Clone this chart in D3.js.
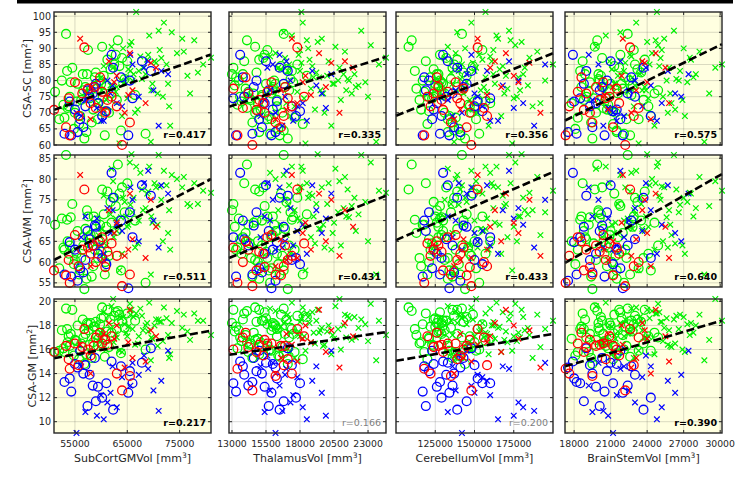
<!DOCTYPE html>
<html>
<head>
<meta charset="utf-8">
<script src="https://cdn.jsdelivr.net/npm/d3@7"></script>
<style>
html, body { margin: 0; padding: 0; background: #fff; overflow: hidden; }
svg { display: block; }
text { font-family: "DejaVu Sans", sans-serif; }
</style>
</head>
<body>
<div id="chart"></div>
<script>
// each subject: [CSA-SC, CSA-WM, CSA-GM, SubCortGMVol, ThalamusVol, CerebellumVol, BrainStemVol]
var greenCircles = [
    [76.5, 69, 15.8, 51200, 14200, 118000, 19200], [94.5, 85.8, 19.4, 53300, 16800, 142000, 22400],
    [80, 70.5, 17.6, 52500, 13500, 128000, 20100], [68, 58.5, 15.9, 52000, 15900, 151000, 23300],
    [83, 70.2, 17.7, 53500, 17400, 112000, 18500], [84, 74, 19.3, 54500, 13100, 136000, 21700],
    [75, 64, 16.3, 54000, 15200, 124000, 20600], [72, 62, 17.1, 53800, 16300, 147000, 24100],
    [70, 60.5, 16.8, 55000, 14700, 131000, 19800], [66.5, 57, 15.2, 55800, 18200, 120000, 21200],
    [89.5, 71, 18.1, 57500, 15600, 155000, 22900], [82, 66, 18.5, 56500, 13800, 127000, 18900],
    [78, 68, 17.3, 57000, 16900, 139000, 20400], [74, 61, 16.5, 56200, 14400, 115000, 23700],
    [64, 56, 15.6, 57200, 15000, 133000, 21500], [62, 53.5, 14.8, 56800, 17100, 144000, 19500],
    [81, 63, 17.9, 58800, 13300, 122000, 22200], [77, 66.5, 18.2, 58000, 16000, 129000, 20900],
    [73, 65, 16.9, 59500, 14900, 160000, 17800], [79, 62.5, 18.6, 60000, 15500, 125000, 21900],
    [85, 75.5, 18.8, 62500, 17800, 137000, 23000], [92.5, 83.5, 19.2, 63200, 14100, 110000, 19900],
    [63, 57, 15.4, 60700, 16500, 141000, 22600], [87, 78, 18.4, 64000, 15300, 132000, 20300],
    [86, 79, 19.0, 65000, 13900, 119000, 18700], [70, 61.5, 16.2, 61500, 16700, 148000, 21400],
    [76, 69.5, 17.4, 62000, 14600, 126000, 24600], [80.5, 72, 17.8, 64500, 17300, 135000, 20000],
    [63.5, 55, 16.0, 68500, 15800, 153000, 22100], [75, 65.5, 17.0, 60300, 13600, 121000, 19000],
    [79, 67.5, 18.0, 55500, 16200, 130000, 21000], [82.5, 70, 18.3, 59000, 14800, 143000, 23500],
    [71, 59, 16.6, 58500, 15100, 116000, 20700], [68.5, 63, 15.8, 53000, 17600, 138000, 18300],
    [78.5, 68.5, 17.5, 61000, 13200, 127000, 22800], [84.5, 76.5, 18.9, 63500, 16600, 149000, 21300],
    [74.5, 64.5, 16.4, 57800, 14300, 123000, 19600], [69, 58, 15.9, 56000, 15700, 134000, 24300],
    [81.5, 71.5, 18.7, 60500, 18500, 145000, 20200], [77.5, 67, 17.2, 59200, 14000, 113000, 22000],
    [65, 59.5, 15.5, 54800, 16400, 140000, 18100], [88, 73.5, 19.1, 62800, 15400, 128000, 21800],
    [73.5, 62, 16.7, 55300, 13700, 157000, 20500], [83.5, 74.5, 18.5, 61800, 17000, 124000, 23200],
    [67, 56.5, 15.3, 58200, 14500, 136000, 19400], [76, 66, 17.6, 57600, 15900, 131000, 21600],
    [80, 69, 18.1, 59800, 16100, 117000, 22500], [72.5, 63.5, 16.1, 52800, 13400, 146000, 20800],
    [79.5, 70.8, 17.3, 54200, 17500, 129000, 19300], [86.5, 77, 19.3, 61200, 15000, 139000, 23800],
    [70.5, 60, 16.9, 60800, 14900, 121000, 21100], [74, 67.5, 17.7, 63000, 16300, 152000, 18800],
    [68, 61, 16.3, 59400, 15600, 133000, 22300], [82, 72.5, 18.2, 57300, 13000, 126000, 20000],
    [77, 64, 17.0, 56600, 17200, 142000, 24900], [90.5, 77.5, 19.5, 60200, 14700, 108000, 19700],
    [64.5, 58, 15.7, 63800, 16800, 137000, 21500], [75.5, 70, 18.4, 66500, 15200, 130000, 22700],
    [71.5, 65, 16.6, 53600, 14100, 150000, 20400], [78, 71, 17.9, 58600, 16000, 125000, 18600]
];
var greenCrosses = [
    [101.3, 83, 19.0, 66700, 18100, 157000, 24800], [87.1, 76.7, 17.2, 81000, 24320, 185000, 27500],
    [98, 82, 19.5, 72000, 18200, 148000, 23100], [95.5, 85.8, 18.5, 71000, 22500, 172000, 26200],
    [95, 81, 18.2, 73500, 16800, 139000, 21800], [93, 78, 17.8, 75500, 19600, 165000, 25400],
    [89, 80.5, 18.9, 75800, 21300, 190000, 28300], [88, 77, 17.5, 69000, 17900, 153000, 22600],
    [91, 84, 19.8, 65500, 23200, 176000, 24900], [90, 75.5, 18.7, 64200, 18600, 144000, 27000],
    [86, 79, 18.0, 70200, 20100, 161000, 20900], [84, 72.5, 17.6, 68000, 16400, 182000, 25800],
    [82.5, 74, 18.4, 78500, 19200, 135000, 23500], [76, 73.5, 16.8, 77000, 21800, 169000, 29100],
    [83, 70, 17.1, 67200, 18000, 150000, 22100], [80, 72, 17.7, 66000, 20800, 195000, 26600],
    [85, 78.5, 18.6, 72500, 17200, 142000, 24200], [79, 69.5, 16.9, 69800, 20500, 163000, 21400],
    [81, 71, 17.4, 64800, 19000, 178000, 27800], [78, 67.5, 17.0, 63000, 22100, 156000, 23800],
    [87, 75, 18.3, 71500, 16900, 131000, 25100], [77.5, 66, 16.6, 62400, 18800, 171000, 20300],
    [74, 64, 16.0, 61000, 21000, 147000, 26900], [72, 72.5, 15.3, 73000, 17600, 187000, 22900],
    [66, 63, 15.6, 73200, 20300, 159000, 24600], [61, 57, 15.1, 69500, 23600, 137000, 28700],
    [60.5, 58, 15.9, 63500, 18400, 174000, 23300], [70, 63.5, 16.4, 66500, 19800, 152000, 25700],
    [83.5, 69, 17.9, 65200, 16600, 166000, 21100], [80.5, 77.5, 18.8, 67800, 21500, 141000, 26400],
    [92, 86, 19.3, 65800, 19300, 180000, 24000], [76.5, 70.5, 17.3, 62800, 17800, 158000, 22400],
    [79.5, 74.5, 18.1, 64500, 22800, 145000, 27300], [84.5, 76, 19.1, 60500, 18900, 168000, 25000],
    [90.5, 82.5, 19.6, 62000, 20600, 133000, 19800], [73, 66.5, 16.2, 59500, 17000, 192000, 26000],
    [77, 68, 17.6, 60200, 19500, 154000, 23600], [82, 73, 18.0, 68500, 21200, 162000, 28000],
    [85.5, 78, 18.5, 70500, 18100, 149000, 22200], [75, 65, 16.7, 71800, 23000, 177000, 25300],
    [88.5, 80, 19.2, 74500, 16200, 138000, 24400], [81.5, 74, 17.5, 76500, 20000, 170000, 21600],
    [86.5, 76.5, 18.2, 68800, 18700, 155000, 27600], [78.5, 71.5, 17.8, 61800, 22300, 184000, 23000],
    [71, 64.5, 16.5, 67000, 19100, 146000, 26300], [94, 83, 19.9, 69200, 17400, 164000, 20600],
    [80, 70.8, 18.6, 63800, 21600, 128000, 25600], [74.5, 68.5, 17.1, 65000, 18300, 175000, 24100],
    [84, 79.5, 20.2, 62300, 20900, 151000, 29600], [87.5, 81.5, 19.4, 67500, 15800, 160000, 22700],
    [76, 69, 16.3, 70800, 19700, 143000, 25900], [82, 75.5, 18.7, 66200, 22000, 181000, 23400],
    [69, 62, 15.8, 64000, 17300, 167000, 27100], [79, 67, 17.2, 72800, 20400, 136000, 21300],
    [92.5, 79, 19.0, 77800, 18500, 173000, 24700], [85, 77.2, 18.4, 79500, 23800, 200000, 30150],
    [81, 68, 17.4, 60000, 19400, 157000, 22800], [83, 73.8, 18.9, 65600, 17100, 140000, 26700],
    [77, 71, 17.0, 69600, 21400, 179000, 23900], [89.5, 78.2, 18.3, 71200, 18000, 162000, 25200]
];
var blueCircles = [
    [63.5, 57, 13.3, 53000, 14500, 128000, 18200], [63, 56.5, 12.5, 54300, 13300, 117000, 20500],
    [64, 55.5, 14.5, 55500, 16200, 141000, 17500], [68, 58.5, 15.9, 56000, 15000, 123000, 21800],
    [72, 60.5, 14.7, 57000, 17400, 150000, 19300], [75, 65.5, 13.9, 57800, 13900, 132000, 23000],
    [77, 67.5, 11.3, 57400, 15700, 119000, 20100], [79, 68.5, 11.7, 59000, 16800, 145000, 18800],
    [76, 64, 13.0, 58400, 14200, 136000, 22400], [73, 62, 12.9, 59400, 15400, 126000, 19800],
    [70.5, 59.5, 13.2, 61000, 18000, 155000, 21200], [88, 81.5, 15.0, 62000, 13600, 130000, 17900],
    [84, 75.5, 11.0, 62300, 16500, 139000, 23700], [80, 72, 14.2, 65500, 14800, 121000, 20700],
    [83, 76, 16.1, 69500, 17100, 148000, 19000], [63, 53.7, 12.4, 65200, 15900, 134000, 22000],
    [74.5, 66, 13.2, 66000, 13100, 160000, 18500], [71, 63, 14.8, 55000, 16000, 124000, 21500],
    [78, 68.8, 15.3, 58800, 14600, 143000, 20300], [69, 61, 12.0, 60200, 17700, 129000, 24300],
    [65.5, 57.5, 14.0, 56600, 15200, 137000, 19500], [81, 70, 14.6, 63800, 13800, 118000, 22700],
    [73.5, 64.8, 13.6, 54000, 16300, 152000, 18000], [86, 78.5, 14.9, 67800, 15500, 133000, 21000]
];
var blueCrosses = [
    [70, 63, 9.06, 55300, 16200, 142000, 21200], [67.5, 62, 10.2, 60500, 18500, 165000, 24800],
    [74, 71, 10.8, 57000, 15400, 133000, 19500], [80, 73, 11.6, 61200, 17300, 178000, 23000],
    [76, 67, 12.4, 61800, 19600, 150000, 26300], [66, 63.5, 10.9, 71000, 16700, 188000, 20400],
    [77, 70, 12.6, 70000, 15800, 138000, 22500], [83, 78.5, 13.4, 71500, 18900, 158000, 25700],
    [86, 82, 14.4, 69000, 17000, 172000, 21800], [82, 76.5, 15.9, 72800, 20300, 145000, 27400],
    [85, 75, 14.9, 66000, 16000, 195000, 20000], [72, 67.5, 13.7, 64000, 17800, 155000, 23600],
    [69, 66, 14.6, 56200, 15100, 136000, 22100], [78.5, 72.5, 14.6, 62200, 19200, 168000, 24300],
    [88, 78, 13.0, 65600, 16500, 148000, 19200], [73, 69, 11.2, 63000, 18200, 181000, 25200],
    [67.5, 64, 12.2, 60000, 17500, 160000, 21500], [84, 79, 15.5, 68200, 15600, 140000, 23900],
    [71.5, 70.5, 10.5, 59200, 19900, 175000, 20800], [75, 65, 13.9, 67200, 16900, 152000, 26800]
];
var redCircles = [
    [70.9, 58, 15.8, 51000, 14800, 130000, 18800], [65.5, 56.8, 16.3, 53300, 16600, 145000, 21200],
    [63, 55, 14.4, 54000, 13400, 118000, 17300], [79.5, 66.5, 16.5, 55000, 15900, 138000, 20400],
    [90.3, 77.5, 17.7, 56800, 17800, 152000, 22600], [76, 63, 16.2, 56400, 14200, 124000, 19000],
    [73, 62, 15.5, 58000, 15300, 141000, 21700], [78, 64, 16.3, 58600, 16900, 127000, 19800],
    [71.5, 60, 17.0, 59000, 13800, 156000, 23300], [76.5, 66, 16.5, 60200, 15600, 133000, 18300],
    [75, 64.5, 17.1, 62000, 18300, 120000, 20900], [60, 54.2, 12.6, 64000, 14500, 148000, 22200],
    [67, 57, 13.8, 65500, 16200, 135000, 19500], [72, 61.5, 14.0, 63000, 17400, 122000, 17600],
    [77.5, 63.5, 16.0, 57500, 13100, 143000, 21500], [74, 62.5, 16.4, 61200, 15000, 129000, 20100],
    [69, 59, 14.7, 55700, 16800, 158000, 22900], [81, 65, 17.4, 59800, 14000, 126000, 18600],
    [74.5, 60.5, 15.2, 53800, 17100, 139000, 20600], [70, 58.8, 16.8, 60800, 15400, 147000, 19300]
];
var redCrosses = [
    [93, 81, 16.4, 56000, 17400, 152000, 22000], [88.5, 76.5, 19.3, 65500, 19400, 170000, 24700],
    [85.5, 75, 17.6, 69500, 20300, 185000, 23800], [84, 68.5, 17.1, 70500, 21900, 160000, 25500],
    [81.5, 69.5, 18.0, 63000, 18400, 175000, 21900], [77, 65.5, 15.3, 66000, 16600, 143000, 23100],
    [75.5, 63, 16.6, 65200, 18800, 158000, 20500], [70, 61.5, 14.5, 64500, 20900, 192000, 22700],
    [68, 59, 14.0, 58000, 16200, 137000, 24300], [78, 65, 15.8, 58200, 19900, 167000, 21200],
    [73, 61, 15.0, 68500, 17800, 148000, 25800], [86, 72.5, 18.2, 61500, 21300, 163000, 23600],
    [71, 60.5, 17.3, 60500, 17000, 141000, 20800], [79.5, 67, 16.9, 62500, 18200, 178000, 24000]
];

var yNames = ['CSA-SC', 'CSA-WM', 'CSA-GM'];
var xNames = ['SubCortGMVol', 'ThalamusVol', 'CerebellumVol', 'BrainStemVol'];
var yDomains = [[60, 101.3], [54, 85.8], [9.06, 20.2]];
var xDomains = [[51000, 81000], [12780, 24320], [100000, 200000], [17250, 30150]];
var yTicks = [
    [60, 65, 70, 75, 80, 85, 90, 95, 100],
    [55, 60, 65, 70, 75, 80, 85],
    [10, 12, 14, 16, 18, 20]
];
var xTicks = [
    [55000, 65000, 75000],
    [13000, 15500, 18000, 20500, 23000],
    [125000, 150000, 175000],
    [18000, 21000, 24000, 27000, 30000]
];
var rValues = [
    [0.417, 0.335, 0.356, 0.575],
    [0.511, 0.431, 0.433, 0.640],
    [0.217, 0.166, 0.200, 0.390]
];
var significant = [
    [true, true, true, true],
    [true, true, true, true],
    [true, false, false, true]
];
// fitted y at left and right end of each x range
var fitEnds = [
    [[70.9, 88.1], [71.9, 87.4], [69.1, 88.5], [67.6, 91.3]],
    [[60.5, 80.0], [61.0, 76.0], [65.3, 81.7], [59.8, 81.2]],
    [[15.28, 17.56], [15.56, 17.45], [15.06, 17.3], [14.6, 18.4]]
];

var groups = [
    {data: greenCircles, color: '#00f000', shape: 'o'},
    {data: greenCrosses, color: '#00f000', shape: 'x'},
    {data: blueCircles, color: '#0000ff', shape: 'o'},
    {data: blueCrosses, color: '#0000ff', shape: 'x'},
    {data: redCircles, color: '#ff0000', shape: 'o'},
    {data: redCrosses, color: '#ff0000', shape: 'x'}
];

var svgWidth = 742;
var svgHeight = 477;
var colLeft = [54, 229, 396, 565];
var colWidth = 157;
var rowTop = [12, 155, 299];
var rowHeight = [133, 132, 134];
var axisColor = '#262626';

var svg = d3.select('#chart').append('svg')
    .attr('width', svgWidth)
    .attr('height', svgHeight);

// black strip along the top
svg.append('line')
    .attr('x1', 17).attr('x2', 733)
    .attr('y1', 1.75).attr('y2', 1.75)
    .attr('stroke', '#000').attr('stroke-width', 3.5);

function crossPath(s) {
    return 'M' + (-s) + ',' + (-s) + 'L' + s + ',' + s + 'M' + (-s) + ',' + s + 'L' + s + ',' + (-s);
}

function unitLabel(sel, name, power) {
    sel.append('tspan').text(name + ' [mm');
    sel.append('tspan').attr('font-size', '7.5px').attr('dy', -4.5).text(power);
    sel.append('tspan').attr('dy', 4.5).text(']');
}

for (var r = 0; r < 3; r++) {
    for (var c = 0; c < 4; c++) {
        drawPanel(r, c);
    }
}

function drawPanel(r, c) {
    var x0 = colLeft[c], y0 = rowTop[r], w = colWidth, h = rowHeight[r];
    var xScale = d3.scaleLinear().domain(xDomains[c]).range([x0, x0 + w]);
    var yScale = d3.scaleLinear().domain(yDomains[r]).range([y0 + h, y0]);
    var g = svg.append('g');

    g.append('rect')
        .attr('x', x0).attr('y', y0).attr('width', w).attr('height', h)
        .attr('fill', significant[r][c] ? '#ffffe0' : '#ffffff');

    // grid
    g.selectAll('.gx').data(xTicks[c]).enter().append('line')
        .attr('x1', function(d) { return xScale(d); })
        .attr('x2', function(d) { return xScale(d); })
        .attr('y1', y0).attr('y2', y0 + h)
        .attr('stroke', 'rgba(38,38,38,0.17)').attr('stroke-width', 1);
    g.selectAll('.gy').data(yTicks[r]).enter().append('line')
        .attr('y1', function(d) { return yScale(d); })
        .attr('y2', function(d) { return yScale(d); })
        .attr('x1', x0).attr('x2', x0 + w)
        .attr('stroke', 'rgba(38,38,38,0.17)').attr('stroke-width', 1);

    // markers
    groups.forEach(function(grp) {
        var pts = g.append('g');
        if (grp.shape === 'o') {
            pts.selectAll('circle').data(grp.data).enter().append('circle')
                .attr('cx', function(d) { return xScale(d[3 + c]); })
                .attr('cy', function(d) { return yScale(d[r]); })
                .attr('r', 4.4)
                .attr('fill', 'none')
                .attr('stroke', grp.color)
                .attr('stroke-width', 1.3);
        } else {
            pts.selectAll('path').data(grp.data).enter().append('path')
                .attr('transform', function(d) {
                    return 'translate(' + xScale(d[3 + c]) + ',' + yScale(d[r]) + ')';
                })
                .attr('d', crossPath(2.8))
                .attr('fill', 'none')
                .attr('stroke', grp.color)
                .attr('stroke-width', 1.2);
        }
    });

    // regression line
    g.append('line')
        .attr('x1', xScale(xDomains[c][0])).attr('y1', yScale(fitEnds[r][c][0]))
        .attr('x2', xScale(xDomains[c][1])).attr('y2', yScale(fitEnds[r][c][1]))
        .attr('stroke', '#000').attr('stroke-width', 2.6)
        .attr('stroke-dasharray', '8,3.5');

    // box and inward ticks
    g.append('rect')
        .attr('x', x0).attr('y', y0).attr('width', w).attr('height', h)
        .attr('fill', 'none').attr('stroke', axisColor).attr('stroke-width', 1.4);
    xTicks[c].forEach(function(t) {
        var xx = xScale(t);
        g.append('path')
            .attr('d', 'M' + xx + ',' + (y0 + h) + 'v-3M' + xx + ',' + y0 + 'v3')
            .attr('stroke', axisColor).attr('stroke-width', 1);
    });
    yTicks[r].forEach(function(t) {
        var yy = yScale(t);
        g.append('path')
            .attr('d', 'M' + x0 + ',' + yy + 'h3M' + (x0 + w) + ',' + yy + 'h-3')
            .attr('stroke', axisColor).attr('stroke-width', 1);
    });

    // r value
    g.append('text')
        .attr('x', x0 + w - 5).attr('y', y0 + h - 7.5)
        .attr('text-anchor', 'end')
        .attr('font-size', '9.5px')
        .attr('font-weight', significant[r][c] ? 'bold' : 'normal')
        .attr('fill', significant[r][c] ? '#000' : '#808080')
        .text('r=' + rValues[r][c].toFixed(3));

    // tick labels
    if (c === 0) {
        g.selectAll('.yl').data(yTicks[r]).enter().append('text')
            .attr('x', x0 - 3)
            .attr('y', function(d) { return yScale(d) + 3.5; })
            .attr('text-anchor', 'end')
            .attr('font-size', '9.6px')
            .attr('fill', axisColor)
            .text(function(d) { return d; });
        var yl = g.append('text')
            .attr('transform', 'translate(' + (r === 2 ? 36 : 31) + ',' + (y0 + h / 2) + ') rotate(-90)')
            .attr('text-anchor', 'middle')
            .attr('font-size', '11px')
            .attr('fill', axisColor);
        unitLabel(yl, yNames[r], '2');
    }
    if (r === 2) {
        g.selectAll('.xl').data(xTicks[c]).enter().append('text')
            .attr('x', function(d) { return xScale(d); })
            .attr('y', y0 + h + 14)
            .attr('text-anchor', 'middle')
            .attr('font-size', '9.3px')
            .attr('fill', axisColor)
            .text(function(d) { return d; });
        var xl = g.append('text')
            .attr('x', x0 + w / 2).attr('y', y0 + h + 29)
            .attr('text-anchor', 'middle')
            .attr('font-size', '11px')
            .attr('fill', axisColor);
        unitLabel(xl, xNames[c], '3');
    }
}
</script>
</body>
</html>
